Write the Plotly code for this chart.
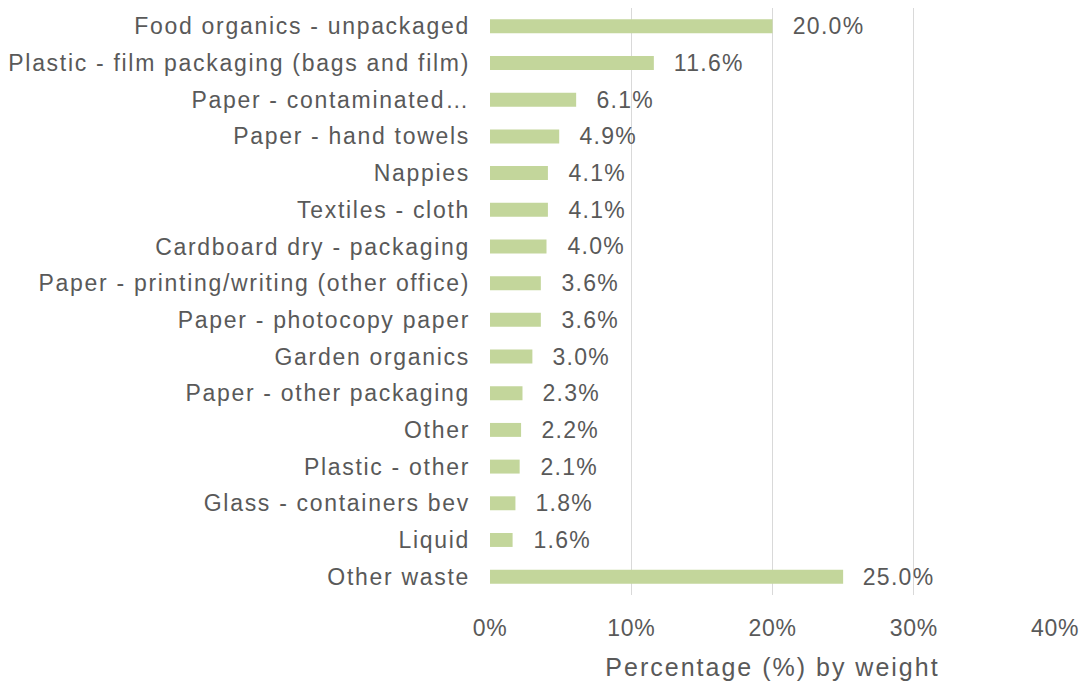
import plotly.graph_objects as go

categories = [
    "Food organics - unpackaged",
    "Plastic - film packaging (bags and film)",
    "Paper - contaminated…",
    "Paper - hand towels",
    "Nappies",
    "Textiles - cloth",
    "Cardboard dry - packaging",
    "Paper - printing/writing (other office)",
    "Paper - photocopy paper",
    "Garden organics",
    "Paper - other packaging",
    "Other",
    "Plastic - other",
    "Glass - containers bev",
    "Liquid",
    "Other waste",
]
percent_by_weight = [20.0, 11.6, 6.1, 4.9, 4.1, 4.1, 4.0, 3.6, 3.6, 3.0, 2.3, 2.2, 2.1, 1.8, 1.6, 25.0]
x_tick_values = [0, 10, 20, 30, 40]
x_tick_labels = ["0%", "10%", "20%", "30%", "40%"]

FONT = "Liberation Sans, Arial, sans-serif"
GREY = "#595959"

fig = go.Figure(
    go.Bar(
        x=percent_by_weight,
        y=categories,
        orientation="h",
        marker=dict(color="#C3D69B", line=dict(width=0)),
        hoverinfo="x+y",
    )
)

# value labels to the right of each bar
for cat, val in zip(categories, percent_by_weight):
    fig.add_annotation(
        x=val, y=cat, text=f"{val:.1f}%", showarrow=False,
        xanchor="left", yanchor="middle", xshift=21,
        font=dict(family=FONT, size=23, color=GREY),
    )

fig.update_layout(
    width=1085, height=687,
    margin=dict(l=490, r=30, t=8, b=92),
    paper_bgcolor="white", plot_bgcolor="white",
    bargap=0.62,
    showlegend=False,
    font=dict(family=FONT, color=GREY),
    xaxis=dict(
        range=[0, 40],
        tickvals=x_tick_values, ticktext=x_tick_labels,
        showgrid=True, gridcolor="#D9D9D9", gridwidth=1,
        zeroline=False, showline=False,
        tickfont=dict(family=FONT, size=23, color=GREY),
        ticklabelstandoff=17,
        title=dict(text="Percentage (%) by weight", font=dict(family=FONT, size=25, color=GREY), standoff=18),
    ),
    yaxis=dict(
        autorange="reversed",
        showgrid=False, zeroline=False, showline=False,
        tickfont=dict(family=FONT, size=23, color=GREY),
        ticklabelstandoff=19,
    ),
)

# slightly wider character spacing for the chart's text
spacing_css = (
    ".ytick text{letter-spacing:1.7px}"
    ".xtick text{letter-spacing:0.7px}"
    "text.annotation-text{letter-spacing:1.3px}"
    "text.xtitle{letter-spacing:2px}"
)
post = (
    "var s=document.createElement('style');"
    f"s.textContent='{spacing_css}';"
    "document.head.appendChild(s);"
)

fig.write_html("out.html", post_script=post)
